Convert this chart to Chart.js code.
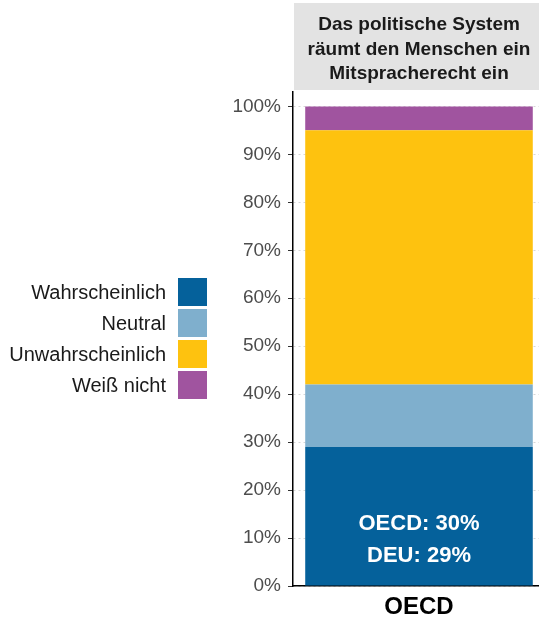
<!DOCTYPE html>
<html>
<head>
<meta charset="utf-8">
<title>Mitspracherecht</title>
<script src="https://cdn.jsdelivr.net/npm/chart.js@4.4.1/dist/chart.umd.min.js"></script>
<style>
  html, body { margin: 0; padding: 0; background: #fff; overflow: hidden; }
  canvas { display: block; }
</style>
</head>
<body>
<canvas id="chart" width="545" height="618"></canvas>
<script>
// Data
const categories = ['OECD'];
const seriesNames = ['Wahrscheinlich', 'Neutral', 'Unwahrscheinlich', 'Weiß nicht'];
const wahrscheinlich = [29];
const neutral = [13];
const unwahrscheinlich = [53];
const weissNicht = [5];
const seriesColors = ['#05619b', '#7fafcd', '#fec20f', '#a0549f'];
const yTicks = [0, 10, 20, 30, 40, 50, 60, 70, 80, 90, 100];
const panelTitle = ['Das politische System', 'räumt den Menschen ein', 'Mitspracherecht ein'];
const barNote = ['OECD: 30%', 'DEU: 29%'];

const FONT = '"Liberation Sans", Arial, sans-serif';

// Grey strip with the panel title above the plot
const stripPlugin = {
    id: 'strip',
    beforeDraw(chart) {
        const { ctx, chartArea } = chart;
        ctx.save();
        ctx.fillStyle = '#e3e3e3';
        ctx.fillRect(chartArea.left + 1, 3, chartArea.right - chartArea.left - 1, 87);
        ctx.fillStyle = '#1a1a1a';
        ctx.font = 'bold 19px ' + FONT;
        ctx.textAlign = 'center';
        ctx.textBaseline = 'middle';
        const cx = (chartArea.left + chartArea.right) / 2;
        panelTitle.forEach((line, i) => {
            ctx.fillText(line, cx, 25 + i * 24.5);
        });
        ctx.restore();
    }
};

// Legend on the left, text right-aligned with box after it
const legendPlugin = {
    id: 'sideLegend',
    afterDraw(chart) {
        const { ctx } = chart;
        ctx.save();
        ctx.font = '20px ' + FONT;
        ctx.textAlign = 'right';
        ctx.textBaseline = 'middle';
        seriesNames.forEach((name, i) => {
            const top = 278 + i * 31;
            ctx.fillStyle = seriesColors[i];
            ctx.fillRect(178, top, 29, 28);
            ctx.fillStyle = '#1a1a1a';
            ctx.fillText(name, 166, top + 15);
        });
        ctx.restore();
    }
};

// White note inside the bottom segment
const notePlugin = {
    id: 'barNote',
    afterDatasetsDraw(chart) {
        const { ctx } = chart;
        const bar = chart.getDatasetMeta(0).data[0];
        const yScale = chart.scales.y;
        const cy = yScale.getPixelForValue(10);
        ctx.save();
        ctx.fillStyle = '#ffffff';
        ctx.font = 'bold 22px ' + FONT;
        ctx.textAlign = 'center';
        ctx.textBaseline = 'middle';
        ctx.fillText(barNote[0], bar.x, cy - 14);
        ctx.fillText(barNote[1], bar.x, cy + 18);
        ctx.restore();
    }
};

const values = [wahrscheinlich, neutral, unwahrscheinlich, weissNicht];

new Chart(document.getElementById('chart'), {
    type: 'bar',
    data: {
        labels: categories,
        datasets: seriesNames.map((name, i) => ({
            label: name,
            data: values[i],
            backgroundColor: seriesColors[i],
            borderWidth: 0,
            barPercentage: 0.903,
            categoryPercentage: 1
        }))
    },
    options: {
        responsive: false,
        animation: false,
        devicePixelRatio: 1,
        layout: { padding: { top: 92, left: 0, right: 0, bottom: 0 } },
        plugins: {
            legend: { display: false },
            tooltip: { enabled: false }
        },
        scales: {
            x: {
                stacked: true,
                grid: { display: false, drawTicks: false },
                border: { display: true, color: '#000', width: 1.5 },
                ticks: {
                    color: '#000',
                    padding: 7,
                    font: { family: FONT, size: 24, weight: 'bold' }
                },
                afterFit(scale) { scale.height = 32; }
            },
            y: {
                stacked: true,
                min: 0,
                max: 103,
                grid: {
                    color: '#d6d6d6',
                    lineWidth: 1,
                    tickLength: 5,
                    tickColor: '#333',
                    tickWidth: 1
                },
                border: { display: true, color: '#000', width: 1.5, dash: [2, 3] },
                ticks: {
                    color: '#4d4d4d',
                    padding: 7,
                    font: { family: FONT, size: 19 },
                    callback: v => v + '%'
                },
                afterBuildTicks(scale) {
                    scale.ticks = yTicks.map(v => ({ value: v }));
                },
                afterFit(scale) { scale.width = 293; }
            }
        }
    },
    plugins: [stripPlugin, legendPlugin, notePlugin]
});
</script>
</body>
</html>
